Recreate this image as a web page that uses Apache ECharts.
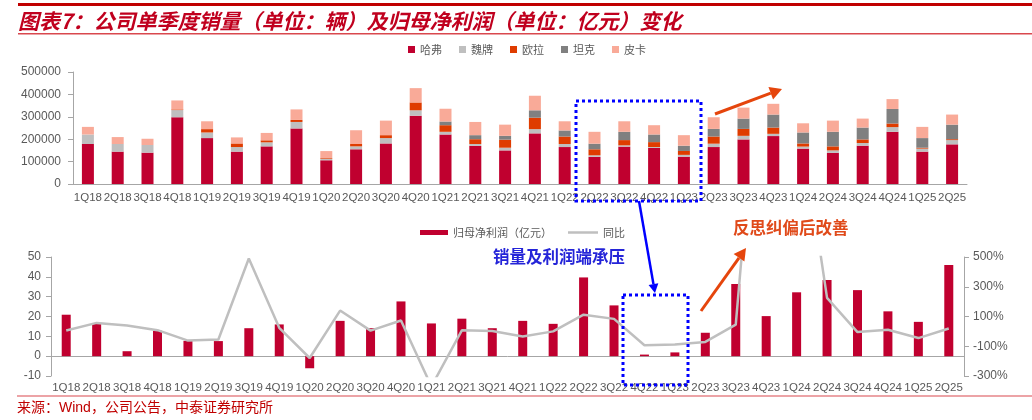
<!DOCTYPE html>
<html>
<head>
<meta charset="utf-8">
<script src="https://cdn.jsdelivr.net/npm/echarts@6/dist/echarts.min.js"></script>
<style>
html,body{margin:0;padding:0;background:#fff;}
#chart{width:1032px;height:420px;}
</style>
</head>
<body>
<div id="chart"></div>
<script>
// ---------- data ----------
const quarters = ['1Q18','2Q18','3Q18','4Q18','1Q19','2Q19','3Q19','4Q19','1Q20','2Q20','3Q20','4Q20','1Q21','2Q21','3Q21','4Q21','1Q22','2Q22','3Q22','4Q22','1Q23','2Q23','3Q23','4Q23','1Q24','2Q24','3Q24','4Q24','1Q25','2Q25'];
const haval  = [178500,144500,140000,298000,205000,144500,168000,248000,106000,155000,181000,305000,221000,170000,150000,226000,165000,121000,167000,161000,122000,165000,199000,214000,158000,139000,171000,233000,144500,177000];
const wey    = [42500,34000,34000,32000,25000,20500,18000,29000,7000,13000,24000,24000,12000,8500,12000,19000,13500,7000,5500,4000,8000,15000,16000,10000,9000,11000,12000,21000,13500,19000];
const ora    = [0,0,0,3000,15000,16000,9000,9000,3000,10500,13000,35000,29500,21500,36000,51000,33500,27000,23500,22000,17500,32000,31000,28000,14000,18000,16000,16000,4000,4000];
const tank   = [0,0,0,0,0,0,0,0,0,0,0,0,16500,18000,17000,33000,27000,25000,37000,34000,23500,34000,46000,58000,49000,65000,53000,65000,43000,65000];
const pickup = [34000,31000,28000,40000,35000,27000,33000,47000,31000,61500,65000,64000,57000,59000,50000,65000,41000,53000,47000,41500,47000,52000,49000,48000,41000,50000,40000,44000,50000,45000];
const netProfit = [20.9,16.5,2.5,12.8,7.7,7.6,14.1,16.0,-6.1,17.8,14.1,27.6,16.5,18.9,14.1,17.8,16.3,39.7,25.6,0.8,1.9,11.8,36.4,20.2,32.2,38.4,33.3,22.6,17.3,46.0];
const yoy = [6,57,40,8,-62,-55,490,24,-179,140,5,73,-370,7,2,-34,0,112,84,-93,-89,-71,45,2425,1595,225,-5,11,-45,19];
const salesTicks = {min:0, max:500000, interval:100000};
const profitTicks = {min:-10, max:50, interval:10};
const yoyTicks = {min:-300, max:500, interval:200};

// ---------- styles ----------
const C_HAVAL='#C0002F', C_WEY='#BFBFBF', C_ORA='#DF3C00', C_TANK='#808080', C_PICK='#F9AA98';
const C_LINE='#BFBFBF', C_AXIS='#A6A6A6', C_TXT='#595959';
const FONT='"Liberation Sans", Arial, "Noto Sans CJK SC", sans-serif';
const CJK='"Noto Sans CJK SC", sans-serif';

function arrow(x1,y1,x2,y2,color,w,head){
  const a=Math.atan2(y2-y1,x2-x1);
  const hl=head, hw=head*0.55;
  const bx=x2-hl*Math.cos(a), by=y2-hl*Math.sin(a);
  return [
    {type:'line',shape:{x1:x1,y1:y1,x2:bx,y2:by},style:{stroke:color,lineWidth:w},z:100},
    {type:'polygon',shape:{points:[[x2,y2],[bx+hw*Math.sin(a),by-hw*Math.cos(a)],[bx-hw*Math.sin(a),by+hw*Math.cos(a)]]},style:{fill:color},z:100}
  ];
}

const chart = echarts.init(document.getElementById('chart'));
const axisLabel = {color:C_TXT,fontSize:11.5,fontFamily:FONT};
const legendText = {color:C_TXT,fontSize:11,fontFamily:CJK};
const option = {
  animation:false,
  backgroundColor:'#fff',
  textStyle:{fontFamily:FONT},
  legend:[
    {data:['哈弗','魏牌','欧拉','坦克','皮卡'],left:403,top:39,icon:'rect',itemWidth:7,itemHeight:7,itemGap:17,textStyle:legendText},
    {data:[{name:'归母净利润（亿元）',icon:'rect'}],left:415,top:222,itemWidth:28,itemHeight:5,textStyle:legendText},
    {data:[{name:'同比',icon:'rect'}],left:563,top:222,itemWidth:30,itemHeight:2.5,textStyle:legendText}
  ],
  grid:[
    {left:73,right:65,top:72,height:112},
    {left:51,right:68,top:257,height:119}
  ],
  xAxis:[
    {type:'category',gridIndex:0,data:quarters,axisLine:{lineStyle:{color:C_AXIS}},axisTick:{lineStyle:{color:C_AXIS}},
     axisLabel:Object.assign({interval:0,margin:8},axisLabel)},
    {type:'category',gridIndex:1,data:quarters,axisLine:{onZero:true,onZeroAxisIndex:1,lineStyle:{color:C_AXIS}},axisTick:{lineStyle:{color:C_AXIS}},
     axisLabel:Object.assign({interval:0,margin:6},axisLabel)}
  ],
  yAxis:[
    {type:'value',gridIndex:0,min:salesTicks.min,max:salesTicks.max,interval:salesTicks.interval,
     axisLine:{show:true,lineStyle:{color:C_AXIS}},axisTick:{show:true,lineStyle:{color:C_AXIS}},splitLine:{show:false},
     axisLabel:Object.assign({margin:12,formatter:function(v){return String(v);}},axisLabel,{fontSize:12})},
    {type:'value',gridIndex:1,min:profitTicks.min,max:profitTicks.max,interval:profitTicks.interval,
     axisLine:{show:true,lineStyle:{color:C_AXIS}},axisTick:{show:true,lineStyle:{color:C_AXIS}},splitLine:{show:false},
     axisLabel:Object.assign({margin:10},axisLabel,{fontSize:12})},
    {type:'value',gridIndex:1,position:'right',min:yoyTicks.min,max:yoyTicks.max,interval:yoyTicks.interval,
     axisLine:{show:true,lineStyle:{color:C_AXIS}},axisTick:{show:true,lineStyle:{color:C_AXIS}},splitLine:{show:false},
     axisLabel:Object.assign({margin:9,formatter:'{value}%'},axisLabel,{fontSize:12})}
  ],
  series:[
    {name:'哈弗',type:'bar',stack:'s',xAxisIndex:0,yAxisIndex:0,data:haval,barWidth:12,itemStyle:{color:C_HAVAL}},
    {name:'魏牌',type:'bar',stack:'s',xAxisIndex:0,yAxisIndex:0,data:wey,barWidth:12,itemStyle:{color:C_WEY}},
    {name:'欧拉',type:'bar',stack:'s',xAxisIndex:0,yAxisIndex:0,data:ora,barWidth:12,itemStyle:{color:C_ORA}},
    {name:'坦克',type:'bar',stack:'s',xAxisIndex:0,yAxisIndex:0,data:tank,barWidth:12,itemStyle:{color:C_TANK}},
    {name:'皮卡',type:'bar',stack:'s',xAxisIndex:0,yAxisIndex:0,data:pickup,barWidth:12,itemStyle:{color:C_PICK}},
    {name:'归母净利润（亿元）',type:'bar',xAxisIndex:1,yAxisIndex:1,data:netProfit,barWidth:9,itemStyle:{color:C_HAVAL}},
    {name:'同比',type:'line',xAxisIndex:1,yAxisIndex:2,data:yoy,symbol:'none',clip:true,lineStyle:{color:C_LINE,width:2.5},itemStyle:{color:C_LINE},z:5}
  ],
  graphic:[].concat(
    [
      {type:'rect',shape:{x:18,y:3,width:1014,height:3},style:{fill:'#C00000'}},
      {type:'text',x:18,y:21,style:{text:'图表7：公司单季度销量（单位：辆）及归母净利润（单位：亿元）变化',fill:'#C0001E',
        font:'italic bold 21px "Noto Sans CJK SC", sans-serif',textVerticalAlign:'middle'}},
      {type:'rect',shape:{x:18,y:33,width:1014,height:1.5},style:{fill:'#D9484E'}},
      {type:'rect',shape:{x:17,y:395.5,width:1015,height:1},style:{fill:'#D9484E'}},
      {type:'text',x:17,y:408,style:{text:'来源：Wind，公司公告，中泰证券研究所',fill:'#C00000',
        font:'14px "Liberation Sans", "Noto Sans CJK SC", sans-serif',textVerticalAlign:'middle'}},
      {type:'rect',shape:{x:576,y:101,width:125,height:100},style:{fill:null,stroke:'#0000FF',lineWidth:3,lineDash:[3,3]},z:100},
      {type:'rect',shape:{x:623,y:295,width:65,height:90},style:{fill:null,stroke:'#0000FF',lineWidth:3,lineDash:[3,3]},z:100},
      {type:'text',x:493,y:257,style:{text:'销量及利润端承压',fill:'#2424D8',font:'bold 16.5px "Noto Sans CJK SC", serif',textVerticalAlign:'middle'},z:100},
      {type:'text',x:733,y:228,style:{text:'反思纠偏后改善',fill:'#E04A1A',font:'bold 16.5px "Noto Sans CJK SC", serif',textVerticalAlign:'middle'},z:100}
    ],
    arrow(639,201,655,293,'#0000FF',2.5,9),
    arrow(715,114,782,89,'#E5450C',3,12),
    arrow(701,311,746,248,'#E5450C',3,12)
  )
};
chart.setOption(option);
</script>
</body>
</html>
